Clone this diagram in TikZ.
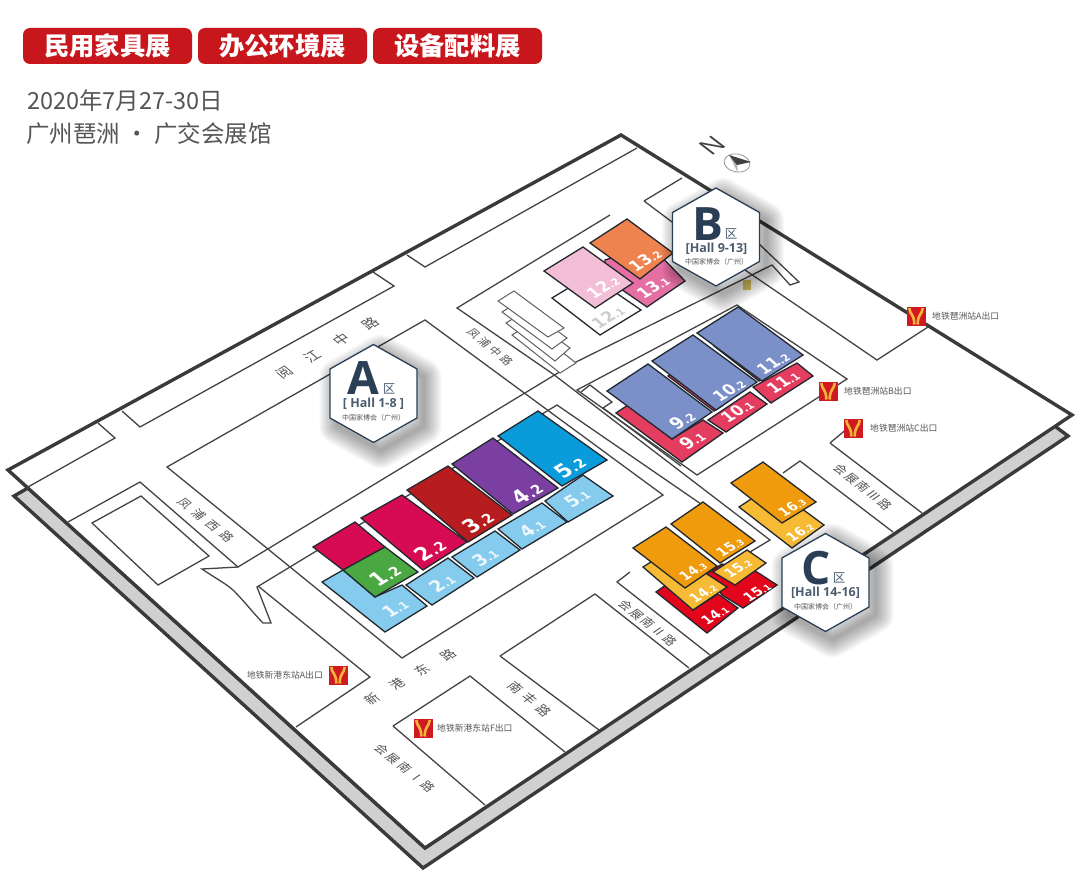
\documentclass[tikz,border=0pt]{standalone}
\usepackage{fontspec}
\setmainfont{Noto Sans CJK SC}
\newfontfamily\latinfont{Open Sans}
\newfontfamily\numfont{DejaVu Sans}
\usetikzlibrary{shapes.geometric}
\definecolor{roadline}{HTML}{444444}
\definecolor{plateline}{HTML}{3A3A3A}
\definecolor{plategray}{HTML}{D0D0D0}
\definecolor{hallline}{HTML}{23282E}
\definecolor{btnred}{HTML}{C8161D}
\definecolor{navy}{HTML}{2A3F55}
\definecolor{txtgray}{HTML}{555555}
\definecolor{crimson}{HTML}{D60B52}
\definecolor{hgreen}{HTML}{4AA842}
\definecolor{hdark}{HTML}{B71C1F}
\definecolor{hpurple}{HTML}{7A3FA0}
\definecolor{hblue}{HTML}{0A9BDB}
\definecolor{hsky}{HTML}{85CBEE}
\definecolor{horange}{HTML}{EE8350}
\definecolor{hpink}{HTML}{F3BFD6}
\definecolor{hrose}{HTML}{E56FA3}
\definecolor{hperi}{HTML}{7B8FC8}
\definecolor{hcoral}{HTML}{E43D60}
\definecolor{hamber}{HTML}{F09A0E}
\definecolor{hgold}{HTML}{F6BA35}
\definecolor{hred}{HTML}{E3051B}
\definecolor{mred}{HTML}{CE1A20}
\definecolor{myellow}{HTML}{F4B63A}
\tikzset{
  road/.style={draw=roadline,line width=1.3pt,line join=miter},
  strip/.style={draw=roadline!85,line width=1pt,line join=miter,fill=white},
  plate/.style={draw=plateline,line width=3.4pt,line join=miter},
  hallbox/.style={draw=hallline,line width=1.3pt,line join=miter},
  btn/.style={fill=btnred,draw=none,rounded corners=7pt,minimum width=169pt,minimum height=36pt,inner sep=0pt,
     text=white,font=\fontsize{25.3}{25}\selectfont\bfseries},
  headline/.style={anchor=west,inner sep=0pt,text=txtgray,font=\fontsize{23.5}{24}\selectfont},
  isonum/.style={cm={.85,.5,-.8,.72,(0,0)},inner sep=0pt,text=white,font=\numfont\bfseries},
  roadup/.style={cm={.87,.5,-.78,.66,(0,0)},inner sep=0pt,text=txtgray},
  roaddown/.style={cm={.78,-.62,.84,.58,(0,0)},inner sep=0pt,text=txtgray},
  exitlabel/.style={inner sep=0pt,text=txtgray,font=\fontsize{8.8}{9}\selectfont},
  metroicon/.pic={
    \fill[mred] (-9.5,-9.5) rectangle (9.5,9.5);
    \draw[myellow,line width=2.6pt] (-6.8,-8) .. controls (-6,-1) and (-1.7,-2) .. (-1.7,8.5);
    \draw[myellow,line width=2.6pt] (6.8,-8) .. controls (6,-1) and (1.7,-2) .. (1.7,8.5);
  },
  hexbig/.style={inner sep=0pt,text=navy,font=\latinfont\bfseries\fontsize{46}{46}\selectfont},
  hexqu/.style={inner sep=0pt,text=navy!85,font=\fontsize{12.5}{13}\selectfont},
  hexhall/.style={inner sep=0pt,text=navy!85,font=\latinfont\bfseries\fontsize{12.5}{13}\selectfont},
  hexsub/.style={inner sep=0pt,text=txtgray,font=\fontsize{7}{8}\selectfont},
  hexface/.style={fill=white,draw=navy,line width=1.3pt,line join=miter},
}
\newcommand\hlab[6]{\node[isonum,text=#6] (#1) at (#2,#3) {\fontsize{20}{20}\selectfont #4\fontsize{13.5}{13.5}\selectfont #5};}
\newcommand\llab[6]{\node[isonum,text=#6] (#1) at (#2,#3) {\fontsize{17}{17}\selectfont #4\fontsize{11}{11}\selectfont #5};}
\newcommand\slab[6]{\node[isonum,text=#6] (#1) at (#2,#3) {\fontsize{15.5}{15.5}\selectfont #4\fontsize{10}{10}\selectfont #5};}
\newcommand\tlab[6]{\node[isonum,text=#6] (#1) at (#2,#3) {\fontsize{13}{13}\selectfont #4\fontsize{8.5}{8.5}\selectfont #5};}
\newcommand\hexshadow[2]{%
  \foreach \k in {3,6,...,36}{
    \draw[black,opacity=.03,line width=\k pt,line join=round]
      (#1+7,#2+8) ++(0,-49) -- ++(43,24.5) -- ++(0,49) -- ++(-43,24.5) -- ++(-43,-24.5) -- ++(0,-49) -- cycle;
  }}
\newcommand\hexbody[2]{%
  \draw[hexface] (#1,#2) ++(0,-49) -- ++(43.5,24.5) -- ++(0,49) -- ++(-43.5,24.5) -- ++(-43.5,-24.5) -- ++(0,-49) -- cycle;}
\begin{document}
\begin{tikzpicture}[x=1pt,y=-1pt]
\useasboundingbox (0,0) rectangle (1080,883);
\fill[white] (0,0) rectangle (1080,883);
% header
\node[btn] (b1) at (107.5,46) {民用家具展};
\node[btn] (b2) at (282.5,46) {办公环境展};
\node[btn] (b3) at (457.5,46) {设备配料展};
\node[headline] (date) at (27,101) {2020年7月27-30日};
\node[headline] (place) at (26,134) {广州琶洲 · 广交会展馆};
% plates
\draw[plate,fill=plategray] (14,496) -- (423,868) -- (1068,436) -- (1052,424) -- (425,848) -- (28,488) -- cycle;
\draw[plate,fill=white] (8,470) -- (621,135) -- (1072,415) -- (425,848) -- cycle;
% roads
\draw[road] (98,423) -- (115,438) -- (28,487);
\draw[road] (122,411) -- (140,427) -- (394,286) -- (373,272);
\draw[road] (407,255) -- (425,267) -- (637,148);
\draw[road] (425,320) -- (167,467) -- (402,658) -- (663,495) -- cycle;
\draw[road] (644,201) -- (682,178);
\draw[road] (644,201) -- (684,231);
\draw[road] (610,215) -- (457,308) -- (553,374) -- (770,540) -- (750,552);
\draw[road] (758,243) -- (799,282) -- (790,285) -- (772,265) -- (576,362) -- (238,567) -- (140,482) -- (68,522);
\draw[road] (92,523) -- (141,496) -- (209,556) -- (158,585) -- cycle;
\draw[road] (238,567) -- (202,569) .. controls (215,578) and (225,583) .. (233,590) .. controls (245,602) and (255,615) .. (263,623) -- (271,623) -- (257,587) -- (557,405) -- (717,515);
\draw[road] (258,586) -- (370,677) -- (296,727);
\draw[road] (393,726) -- (470,676) -- (565,752);
\draw[road] (393,726) -- (485,805);
\draw[road] (500,656) -- (595,594) -- (689,668);
\draw[road] (500,656) -- (599,730);
\draw[road] (630,572) -- (617,582) -- (710,655);
\draw[road] (745,270) -- (877,360) -- (928,327);
\draw[road] (577,390) -- (737,305) -- (847,379) -- (697,475) -- cycle;
\draw[road] (581,392) -- (590,385) -- (612,402) -- (603,408) -- (681,466);
\draw[road] (830,443) -- (848,428);
\draw[road] (830,443) -- (922,513);
\draw[road] (783,473) -- (800,461) -- (893,532);
% entrance strips
\draw[strip] (512,335) -- (528,325) -- (576,363) -- (560,373) -- cycle;
\draw[strip] (506,323) -- (522,313) -- (570,348) -- (555,361) -- cycle;
\draw[strip] (502,312) -- (518,302) -- (567,338) -- (552,349) -- cycle;
\draw[strip] (498,301) -- (514,291) -- (564,328) -- (548,337) -- cycle;
% hall A lower
\draw[hallbox,fill=hsky] (322,582) -- (343,570) -- (375,597) -- (402,585) -- (427,606) -- (385,632) -- cycle;
\draw[hallbox,fill=hsky] (406,585) -- (448,558) -- (474,578) -- (432,605) -- cycle;
\draw[hallbox,fill=hsky] (452,557) -- (495,531) -- (520,550) -- (477,577) -- cycle;
\draw[hallbox,fill=hsky] (498,529) -- (542,503) -- (567,522) -- (522,549) -- cycle;
\draw[hallbox,fill=hsky] (545,501) -- (583,475) -- (613,496) -- (568,522) -- cycle;
% hall A upper
\draw[hallbox,fill=crimson] (313,547) -- (355,522) -- (385,547) -- (343,570) -- cycle;
\draw[hallbox,fill=hgreen] (343,570) -- (385,547) -- (418,572) -- (375,597) -- cycle;
\draw[hallbox,fill=crimson] (361,518) -- (402,495) -- (467,542) -- (423,570) -- cycle;
\draw[hallbox,fill=hdark] (407,490) -- (448,466) -- (512,515) -- (468,542) -- cycle;
\draw[hallbox,fill=hpurple] (452,464) -- (493,438) -- (558,488) -- (513,514) -- cycle;
\draw[hallbox,fill=hblue] (498,436) -- (538,411) -- (607,460) -- (562,486) -- cycle;
% hall B
\draw[hallbox,fill=white] (552,298) -- (590,275) -- (641,310) -- (600,335) -- cycle;
\draw[hallbox,fill=hrose] (605,260) -- (650,245) -- (685,281) -- (647,307) -- (605,278) -- cycle;
\draw[hallbox,fill=hpink] (544,271) -- (583,247) -- (633,283) -- (595,308) -- cycle;
\draw[hallbox,fill=horange] (590,243) -- (627,219) -- (673,253) -- (640,279) -- cycle;
% halls 9-11
\draw[hallbox,fill=hcoral] (616,413) -- (628,405) -- (672,439) -- (703,420) -- (723,433) -- (682,462) -- cycle;
\draw[hallbox,fill=hcoral] (708,420) -- (750,392) -- (767,404) -- (726,432) -- cycle;
\draw[hallbox,fill=hcoral] (753,387) -- (797,363) -- (813,376) -- (771,403) -- cycle;
\draw[hallbox,fill=hcoral] (668,376) -- (676,371) -- (722,406) -- (714,411) -- cycle;
\draw[hallbox,fill=hcoral] (714,346) -- (722,341) -- (766,377) -- (759,381) -- cycle;
\draw[hallbox,fill=hperi] (697,333) -- (738,307) -- (803,355) -- (762,381) -- cycle;
\draw[hallbox,fill=hperi] (652,361) -- (693,335) -- (757,382) -- (716,410) -- cycle;
\draw[hallbox,fill=hperi] (607,391) -- (648,364) -- (712,412) -- (672,439) -- cycle;
% halls 14-16
\draw[hallbox,fill=hgold] (739,507) -- (771,486) -- (824,525) -- (792,548) -- cycle;
\draw[hallbox,fill=hamber] (731,483) -- (763,462) -- (816,502) -- (782,523) -- cycle;
\draw[hallbox,fill=hred] (656,592) -- (670,582) -- (693,610) -- (718,594) -- (738,608) -- (707,633) -- cycle;
\draw[hallbox,fill=hred] (706,574) -- (722,564) -- (757,572) -- (777,585) -- (743,608) -- (722,595) -- cycle;
\draw[hallbox,fill=hgold] (643,567) -- (670,550) -- (727,587) -- (693,610) -- cycle;
\draw[hallbox,fill=hgold] (713,572) -- (747,550) -- (766,563) -- (735,585) -- cycle;
\draw[hallbox,fill=hamber] (671,524) -- (703,502) -- (755,541) -- (720,563) -- cycle;
\draw[hallbox,fill=hamber] (633,548) -- (666,527) -- (717,566) -- (685,588) -- cycle;
% hall labels
\hlab{l12}{385}{575}{1}{.2}{white}
\hlab{l22}{430}{550}{2}{.2}{white}
\hlab{l32}{478}{522}{3}{.2}{white}
\hlab{l42}{527}{493}{4}{.2}{white}
\hlab{l52}{570}{467}{5}{.2}{white}
\llab{l11}{395}{608}{1}{.1}{white!85!hsky}
\llab{l21}{442}{583}{2}{.1}{white!85!hsky}
\llab{l31}{485}{557}{3}{.1}{white!85!hsky}
\llab{l41}{532}{528}{4}{.1}{white!85!hsky}
\llab{l51}{577}{498}{5}{.1}{white!85!hsky}
\slab{l132}{645}{260}{13}{.2}{white}
\slab{l122}{603}{287}{12}{.2}{white}
\slab{l131}{653}{287}{13}{.1}{white}
\slab{l121}{608}{317}{12}{.1}{black!20}
\slab{l112}{773}{363}{11}{.2}{white}
\slab{l102}{729}{390}{10}{.2}{white}
\llab{l92}{682}{420}{9}{.2}{white}
\slab{l111}{783}{382}{11}{.1}{white}
\slab{l101}{737}{411}{10}{.1}{white}
\llab{l91}{692}{440}{9}{.1}{white}
\tlab{l163}{792}{507}{16}{.3}{white}
\tlab{l162}{800}{532}{16}{.2}{white}
\tlab{l153}{730}{547}{15}{.3}{white}
\tlab{l152}{738}{568}{15}{.2}{white}
\tlab{l143}{693}{571}{14}{.3}{white}
\tlab{l142}{703}{593}{14}{.2}{white}
\tlab{l141}{715}{615}{14}{.1}{white}
\tlab{l151}{757}{592}{15}{.1}{white}
% road labels
\node[roadup,font=\fontsize{14}{14}\selectfont] (rYJ) at (327,348) {阅\hspace{19pt}江\hspace{19pt}中\hspace{19pt}路};
\node[roadup,font=\fontsize{13}{13}\selectfont] (rXG) at (410,677) {新\hspace{16pt}港\hspace{16pt}东\hspace{16pt}路};
\node[roaddown,font=\fontsize{12}{12}\selectfont] (rFX) at (206,520) {凤\hspace{6pt}浦\hspace{6pt}西\hspace{6pt}路};
\node[roaddown,font=\fontsize{11}{11}\selectfont] (rFZ) at (490,347) {凤\hspace{3pt}浦\hspace{3pt}中\hspace{3pt}路};
\node[roaddown,font=\fontsize{12}{12}\selectfont] (rH1) at (405,768) {会\hspace{3pt}展\hspace{3pt}南\hspace{3pt}Ⅰ\hspace{3pt}路};
\node[roaddown,font=\fontsize{13}{13}\selectfont] (rNF) at (530,699) {南\hspace{5pt}丰\hspace{5pt}路};
\node[roaddown,font=\fontsize{12}{12}\selectfont] (rH2) at (648,623) {会\hspace{2pt}展\hspace{2pt}南\hspace{2pt}Ⅱ\hspace{2pt}路};
\node[roaddown,font=\fontsize{12}{12}\selectfont] (rH3) at (863,487) {会\hspace{2pt}展\hspace{2pt}南\hspace{2pt}Ⅲ\hspace{2pt}路};
% metro
\pic at (916,316) {metroicon};
\pic at (828,391) {metroicon};
\pic at (853,428) {metroicon};
\pic at (338,675) {metroicon};
\pic at (423,728) {metroicon};
\node[exitlabel,anchor=west] (eA) at (932,316) {地铁琶洲站A出口};
\node[exitlabel,anchor=west] (eB) at (844,391) {地铁琶洲站B出口};
\node[exitlabel,anchor=west] (eC) at (870,428) {地铁琶洲站C出口};
\node[exitlabel,anchor=east] (eXA) at (323,675) {地铁新港东站A出口};
\node[exitlabel,anchor=west] (eXF) at (437,728) {地铁新港东站F出口};
% compass
\node[cm={.84,.54,-.78,.6,(0,0)},inner sep=0pt,text=black!75,font=\latinfont\fontsize{26}{26}\selectfont] (north) at (712,146) {N};
\draw[black!40,line width=.8pt,rotate around={-10:(737,163)}] (737,163) ellipse (13pt and 9pt);
\fill[black!30] (729,155) -- (737,165) -- (738,173) -- cycle;
\fill[black!75] (729,155) -- (751,162) -- (737,165) -- cycle;
% tan marker
\fill[black!20!brown!55!yellow!70] (743,280) rectangle (751,290);
% hexes
\hexshadow{373.5}{393.5}
\hexshadow{716}{237}
\hexshadow{825.5}{582.5}
\hexbody{373.5}{393.5}
\hexbody{716}{237}
\hexbody{825.5}{582.5}
\node[hexbig] (hA) at (363,378) {A};
\node[hexqu] (qA) at (389,389) {区};
\node[hexhall] (tA) at (373.5,404) {[ Hall 1-8 ]};
\node[hexsub] (sA) at (373.5,418) {中国家博会（广州）};
\node[hexbig] (hB) at (708,224) {B};
\node[hexqu] (qB) at (731,234) {区};
\node[hexhall] (tB) at (716.5,249) {[Hall 9-13]};
\node[hexsub] (sB) at (716.5,262) {中国家博会（广州）};
\node[hexbig] (hC) at (816,568) {C};
\node[hexqu] (qC) at (839,578) {区};
\node[hexhall] (tC) at (825.5,593) {[Hall 14-16]};
\node[hexsub] (sC) at (825.5,607) {中国家博会（广州）};
\end{tikzpicture}
\end{document}
